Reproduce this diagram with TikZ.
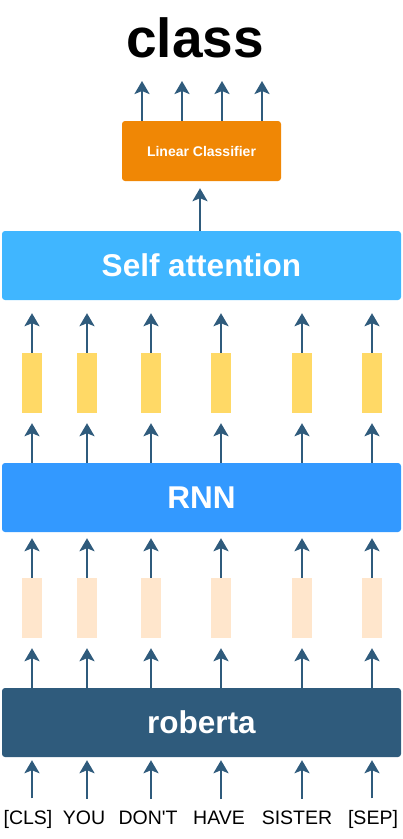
\documentclass[tikz,border=0pt]{standalone}
\usepackage{fontspec}
\setmainfont{Liberation Sans}
\newfontfamily\tokfont{Liberation Sans}
\usetikzlibrary{arrows.meta,positioning}
\definecolor{robblue}{HTML}{2F5B7C}
\definecolor{rnnblue}{HTML}{3399FF}
\definecolor{attblue}{HTML}{40B6FF}
\definecolor{vecyellow}{HTML}{FFD966}
\definecolor{vecpeach}{HTML}{FFE6CC}
\definecolor{clsorange}{HTML}{F08705}
\tikzset{
layerbox/.style={
  rectangle,
  rounded corners=3pt,
  minimum width=399pt,
  minimum height=69pt,
  text=white,
  font=\bfseries\fontsize{31.5}{34}\selectfont
  },
vecbox/.style={
  rectangle,
  minimum width=20pt,
  minimum height=60pt,
  inner sep=0pt
  },
tokenlbl/.style={
  anchor=base,
  font=\tokfont\fontsize{19.5}{21}\selectfont
  },
arr/.style={
  draw=robblue,
  line width=2.8pt,
  -{Stealth[length=13pt,width=15pt,inset=3pt]}
  }
}

\begin{document}
\begin{tikzpicture}[x=1pt, y=-1pt]
\useasboundingbox (0,0) rectangle (403,839);

\node[layerbox, fill=robblue] (roberta) at (201.5,722.5) {roberta};
\node[layerbox, fill=rnnblue] (rnn) at (201.5,497.5) {RNN};
\node[layerbox, fill=attblue] (selfatt) at (201.5,265.5) {Self attention};

\node[rectangle, rounded corners=3pt, fill=clsorange, text=white,
  minimum width=159pt, minimum height=60pt,
  font=\bfseries\fontsize{14}{16}\selectfont]
  (lincls) at (201.5,151) {Linear Classifier};

\node[font=\bfseries\fontsize{55}{58}\selectfont] (cls) at (195,38) {class};

% token columns
\foreach \i/\x/\lx/\tok in {1/32/28/{[CLS]}, 2/87/84/YOU, 3/151/148/DON'T,
                            4/221/219/HAVE, 5/302/297/SISTER, 6/372/373/{[SEP]}}
{
  \node[tokenlbl] (t\i) at (\lx,824) {\tok};
  \node[vecbox, fill=vecpeach] (p\i) at (\x,608) {};
  \node[vecbox, fill=vecyellow] (v\i) at (\x,383) {};
}

\foreach \i in {1,...,6}
{
  \draw[arr, shorten <=8pt, shorten >=3pt]
    (t\i.north -| p\i) -- (roberta.south -| p\i);
  \draw[arr, shorten >=10pt]
    (roberta.north -| p\i) -- (p\i.south);
  \draw[arr, shorten >=6pt]
    (p\i.north) -- (rnn.south -| p\i);
  \draw[arr, shorten >=10pt]
    (rnn.north -| v\i) -- (v\i.south);
  \draw[arr, shorten >=13pt]
    (v\i.north) -- (selfatt.south -| v\i);
}

\draw[arr, shorten >=7pt]
  (selfatt.north -| 200,0) -- (lincls.south -| 200,0);

\foreach \j/\x in {1/142, 2/182, 3/222, 4/262}
{
  \coordinate (o\j) at (\x,81);
  \draw[arr] (lincls.north -| o\j) -- (o\j);
}
\end{tikzpicture}
\end{document}
